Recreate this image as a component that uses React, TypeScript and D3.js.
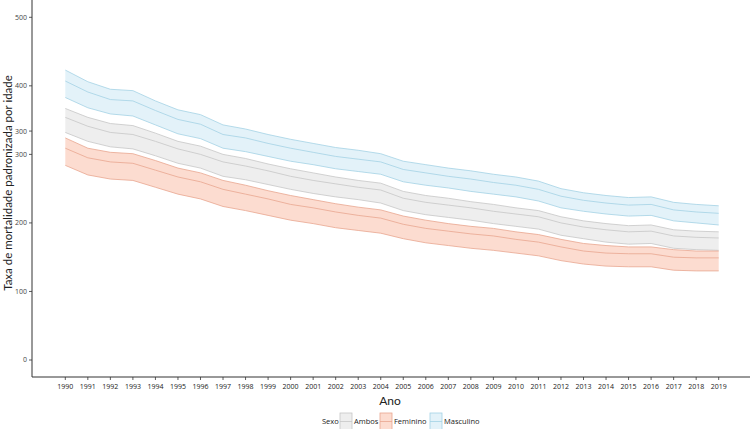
import * as React from 'react';
import * as d3 from 'd3';

const years = d3.range(1990, 2020);

// Masculino
const mascMid = [407, 391, 380, 378, 364, 351, 344, 329, 324, 316, 309, 303, 297, 293, 289, 278, 273, 268, 264, 259, 255, 249, 239, 233, 229, 226, 227, 219, 216, 214];
const mascUpper = [423, 406, 395, 393, 378, 365, 358, 343, 337, 329, 322, 316, 310, 306, 301, 290, 285, 280, 276, 271, 267, 261, 250, 244, 240, 237, 238, 230, 227, 225];
const mascLower = [383, 368, 359, 356, 343, 330, 323, 309, 304, 297, 290, 285, 279, 275, 271, 260, 255, 251, 246, 242, 238, 232, 222, 217, 213, 210, 211, 203, 200, 197];

// Ambos
const ambosMid = [354, 341, 332, 329, 319, 308, 300, 289, 283, 276, 268, 262, 257, 252, 248, 236, 230, 226, 222, 217, 213, 209, 200, 194, 190, 187, 188, 181, 179, 178];
const ambosUpper = [367, 354, 345, 342, 331, 319, 312, 300, 294, 286, 279, 273, 267, 262, 258, 246, 240, 236, 231, 227, 222, 218, 209, 203, 199, 196, 197, 190, 188, 187];
const ambosLower = [332, 319, 311, 308, 298, 287, 280, 268, 263, 256, 249, 243, 238, 234, 229, 218, 212, 208, 204, 199, 195, 191, 182, 177, 172, 169, 170, 163, 161, 160];

// Feminino
const femMid = [309, 295, 289, 287, 277, 267, 260, 249, 242, 235, 227, 222, 216, 211, 207, 198, 192, 188, 184, 181, 176, 172, 165, 159, 156, 155, 155, 150, 149, 149];
const femUpper = [324, 309, 303, 301, 291, 280, 273, 262, 255, 247, 240, 234, 228, 223, 219, 210, 204, 199, 195, 192, 187, 183, 176, 170, 167, 165, 165, 161, 159, 159];
const femLower = [284, 270, 264, 262, 252, 242, 235, 224, 218, 211, 204, 199, 193, 189, 185, 177, 171, 167, 163, 160, 156, 152, 145, 140, 137, 136, 136, 131, 130, 130];

const yTickValues = [0, 100, 200, 300, 334, 400, 500];
const yTickLabels = ['0', '100', '200', '300', '300', '400', '500'];

const legendNames = ['Ambos', 'Feminino', 'Masculino'];

const series = [
  { name: 'Masculino', mid: mascMid, upper: mascUpper, lower: mascLower, fill: '#e3f2f9', stroke: '#a3d2e5' },
  { name: 'Ambos', mid: ambosMid, upper: ambosUpper, lower: ambosLower, fill: '#eeeeee', stroke: '#c6c6c6' },
  { name: 'Feminino', mid: femMid, upper: femUpper, lower: femLower, fill: '#fcdcd0', stroke: '#e9a68f' },
];

const W = 750;
const H = 429;
const FONT = "'Open Sans', 'DejaVu Sans', sans-serif";
const TITLE_FONT = "Lato, 'Open Sans', sans-serif";

export default function App() {
  const ref = React.useRef<SVGSVGElement>(null);

  React.useEffect(() => {
    const svg = d3.select(ref.current);
    svg.selectAll('*').remove();

    const x = d3.scaleLinear().domain([1990, 2019]).range([65.3, 718.7]);
    const y = d3.scaleLinear().domain([0, 500]).range([360, 17.3]);

    const axisX = 32;
    const axisY = 377;

    // bands
    series.forEach(s => {
      const area = d3.area<number>()
        .x((d, i) => x(years[i]))
        .y0((d, i) => y(s.lower[i]))
        .y1((d, i) => y(s.upper[i]));
      svg.append('path')
        .attr('d', area(years) as string)
        .attr('fill', s.fill);
      const line = (vals: number[]) => d3.line<number>()
        .x((d, i) => x(years[i]))
        .y(d => y(d))(vals) as string;
      [s.upper, s.mid, s.lower].forEach(vals => {
        svg.append('path')
          .attr('d', line(vals))
          .attr('fill', 'none')
          .attr('stroke', s.stroke)
          .attr('stroke-width', 0.8);
      });
    });

    // axes lines
    svg.append('line')
      .attr('x1', axisX).attr('x2', axisX)
      .attr('y1', 0).attr('y2', axisY)
      .attr('stroke', '#333').attr('stroke-width', 1);
    svg.append('line')
      .attr('x1', axisX).attr('x2', W)
      .attr('y1', axisY).attr('y2', axisY)
      .attr('stroke', '#333').attr('stroke-width', 1);

    // y ticks
    yTickValues.forEach((v, i) => {
      svg.append('line')
        .attr('x1', axisX - 3).attr('x2', axisX)
        .attr('y1', y(v)).attr('y2', y(v))
        .attr('stroke', '#333').attr('stroke-width', 0.8);
      svg.append('text')
        .attr('x', axisX - 5)
        .attr('y', y(v))
        .attr('dy', '0.35em')
        .attr('text-anchor', 'end')
        .attr('font-family', FONT)
        .attr('font-size', 7)
        .attr('fill', '#444')
        .text(yTickLabels[i]);
    });

    // x ticks
    years.forEach(yr => {
      svg.append('line')
        .attr('x1', x(yr)).attr('x2', x(yr))
        .attr('y1', axisY).attr('y2', axisY + 3)
        .attr('stroke', '#333').attr('stroke-width', 0.8);
      svg.append('text')
        .attr('x', x(yr))
        .attr('y', axisY + 12)
        .attr('text-anchor', 'middle')
        .attr('font-family', FONT)
        .attr('font-size', 7)
        .attr('fill', '#222')
        .text(String(yr));
    });

    // axis titles
    svg.append('text')
      .attr('x', 390)
      .attr('y', 405)
      .attr('text-anchor', 'middle')
      .attr('font-family', TITLE_FONT)
      .attr('font-size', 12)
      .attr('fill', '#222')
      .text('Ano');
    svg.append('text')
      .attr('transform', 'translate(12,183) rotate(-90)')
      .attr('text-anchor', 'middle')
      .attr('font-family', TITLE_FONT)
      .attr('font-size', 11.5)
      .attr('fill', '#222')
      .text('Taxa de mortalidade padronizada por idade');

    // legend
    const ly = 421;
    svg.append('text')
      .attr('x', 322).attr('y', ly).attr('dy', '0.35em')
      .attr('font-family', FONT).attr('font-size', 7.5).attr('fill', '#222')
      .text('Sexo');
    const keyX = [340, 380, 430];
    legendNames.forEach((name, i) => {
      const s = series.find(d => d.name === name)!;
      const g = svg.append('g').attr('transform', `translate(${keyX[i]},${ly - 8})`);
      g.append('rect')
        .attr('width', 12).attr('height', 17)
        .attr('fill', s.fill)
        .attr('stroke', s.stroke).attr('stroke-width', 0.8);
      g.append('line')
        .attr('x1', 0).attr('x2', 12).attr('y1', 8.5).attr('y2', 8.5)
        .attr('stroke', s.stroke).attr('stroke-width', 0.8);
      svg.append('text')
        .attr('x', keyX[i] + 14).attr('y', ly).attr('dy', '0.35em')
        .attr('font-family', FONT).attr('font-size', 7.5).attr('fill', '#222')
        .text(name);
    });
  }, []);

  return (
    <svg
      ref={ref}
      width={W}
      height={H}
      style={{ position: 'absolute', left: 0, top: 0, background: '#fff' }}
    />
  );
}
